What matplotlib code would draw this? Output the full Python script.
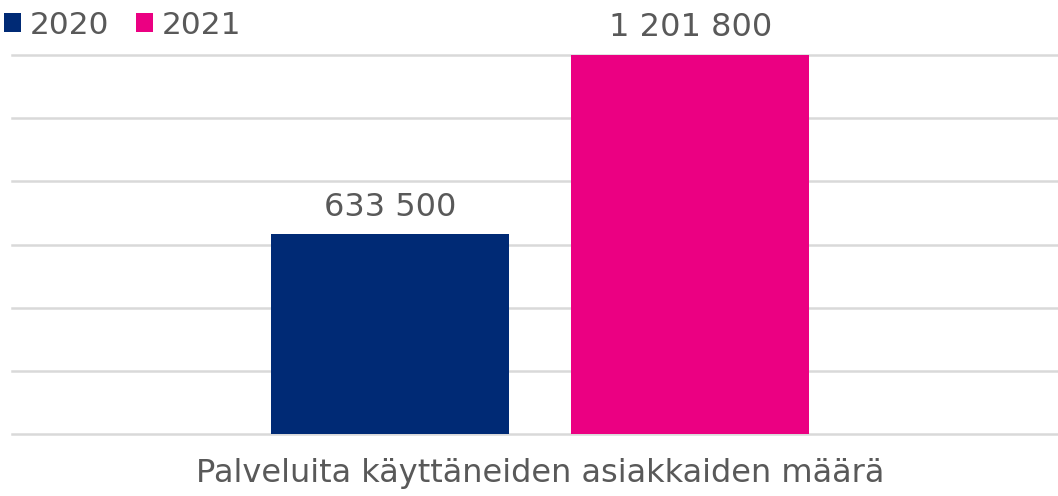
import matplotlib
matplotlib.use("Agg")
import matplotlib.pyplot as plt
from matplotlib.patches import Patch

category = "Palveluita käyttäneiden asiakkaiden määrä"
series = ["2020", "2021"]
values = [633500, 1201800]
colors = ["#002A75", "#EB0082"]
labels = ["633 500", "1 201 800"]
gridvals = list(range(0, 1200001, 200000))

plt.rcParams['font.family'] = ['DejaVu Sans']
TXT = "#595959"

fig = plt.figure(figsize=(10.58, 4.96), dpi=100)
ax = fig.add_axes([12/1058, 1-434/496, 1-12/1058, (434-55)/496])

width = 0.2275
offsets = [-0.1436, 0.1436]
for v, c, off, lab in zip(values, colors, offsets, labels):
    ax.bar(off, v, width=width, color=c, zorder=2)
    ax.text(off, v + 35000, lab, ha='center', va='bottom', fontsize=23,
            color=TXT, clip_on=False)

for g in gridvals:
    ax.axhline(g, color="#D9D9D9", linewidth=1.8, zorder=0, clip_on=False)

ax.set_xlim(-0.505, 0.495)
ax.set_ylim(0, 1200000)
ax.set_yticks([])
ax.tick_params(left=False, labelleft=False, bottom=False)
ax.set_xticks([0])
ax.set_xticklabels([category], fontsize=23, color=TXT)
ax.tick_params(axis='x', pad=14)
for s in ax.spines.values():
    s.set_visible(False)

handles = [Patch(facecolor=c, edgecolor='none') for c in colors]
fig.legend(handles, series, loc='upper left', bbox_to_anchor=(-0.023, 1.035),
           ncol=2, frameon=False, fontsize=22.5, labelcolor=TXT,
           handlelength=0.55, handleheight=0.55, handletextpad=0.28,
           columnspacing=0.85)

fig.savefig("out.png", dpi=100)
